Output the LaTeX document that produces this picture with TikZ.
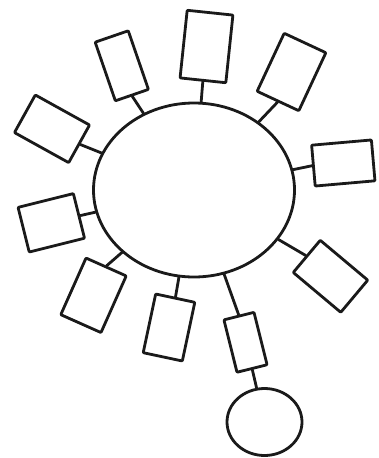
\documentclass[tikz,border=0pt]{standalone}
\usetikzlibrary{shapes.geometric}
\definecolor{ink}{HTML}{1A1A1A}
\tikzset{
  pen/.style={draw=ink, line width=2.8pt, line cap=round, line join=round},
  box/.style={pen, rectangle, inner sep=0pt, rounded corners=0.8pt},
  blob/.style={pen, ellipse, inner sep=0pt},
  link/.style={pen}
}
\begin{document}
\begin{tikzpicture}[x=1pt,y=-1pt]
\useasboundingbox (0,0) rectangle (379,458);
% central body
\node[blob, minimum width=201pt, minimum height=174pt] (E) at (194,190) {};
% boxes
\node[box, minimum width=46pt, minimum height=68pt, rotate=-6]  (r1)  at (206.5,46.5) {};
\node[box, minimum width=35pt, minimum height=62pt, rotate=19]  (r2)  at (121.8,65.8) {};
\node[box, minimum width=46pt, minimum height=64pt, rotate=-25] (r3)  at (291.5,72) {};
\node[box, minimum width=62pt, minimum height=43pt, rotate=-29] (r4)  at (52,128.8) {};
\node[box, minimum width=60pt, minimum height=41pt, rotate=5]   (r5)  at (343.3,163) {};
\node[box, minimum width=57pt, minimum height=46pt, rotate=14]  (r6)  at (51.3,222.8) {};
\node[box, minimum width=44pt, minimum height=62pt, rotate=-24] (r7)  at (93.5,295.3) {};
\node[box, minimum width=40pt, minimum height=60pt, rotate=-12] (r8)  at (169,327.5) {};
\node[box, minimum width=31pt, minimum height=54pt, rotate=14]  (r9)  at (245.5,342.3) {};
\node[box, minimum width=62pt, minimum height=42pt, rotate=-40] (r11) at (330.5,276.3) {};
% small round node
\node[blob, minimum width=75pt, minimum height=67pt] (c) at (264.5,422) {};
% connectors
\draw[link] (r1.south) -- (E);
\draw[link] (r2.south) -- (E);
\draw[link] (r3.south) -- (E);
\draw[link] (r4.east) -- (E);
\draw[link] (r5.west) -- (E);
\draw[link] (r6.east) -- (E);
\draw[link] (r7.north) -- (E);
\draw[link] (r8.north) -- (E);
\draw[link] (r9.north) -- (E);
\draw[link] (r11.west) -- (E);
\draw[link] (r9.south) -- (c);
\end{tikzpicture}
\end{document}
